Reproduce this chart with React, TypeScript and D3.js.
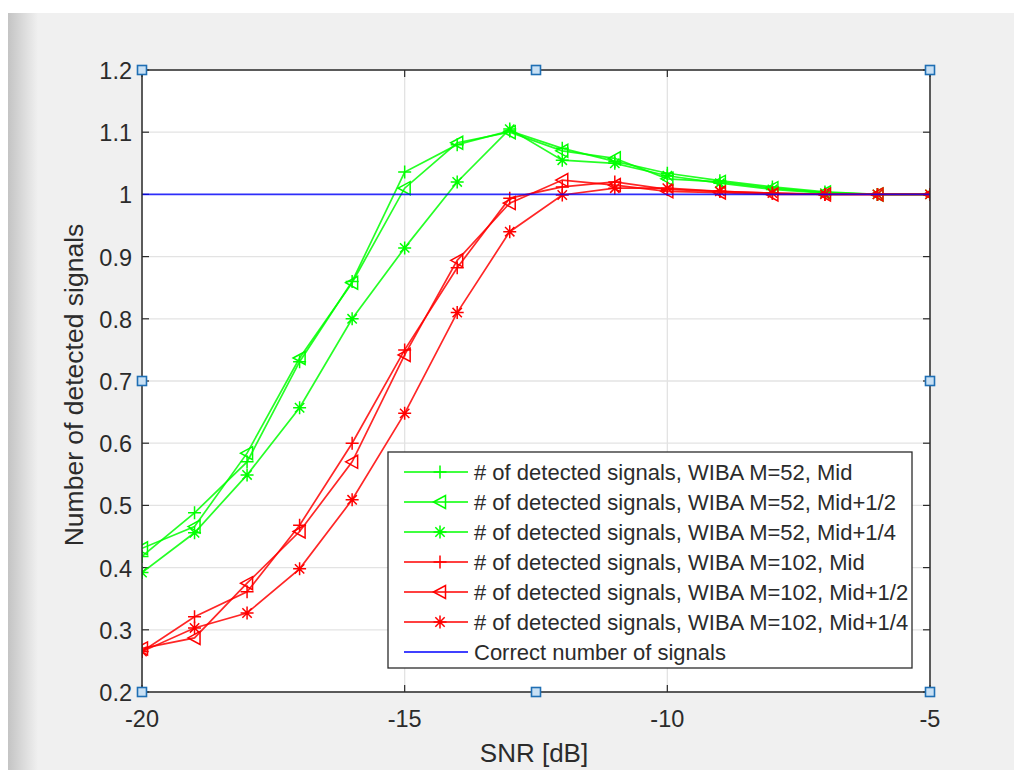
import React from 'react';
import * as d3 from 'd3';

const snr = [-20, -19, -18, -17, -16, -15, -14, -13, -12, -11, -10, -9, -8, -7, -6, -5];

const g52Mid = [0.418, 0.488, 0.57, 0.731, 0.86, 1.036, 1.08, 1.102, 1.074, 1.053, 1.034, 1.022, 1.012, 1.004, 1.0, 1.0];
const g52Half = [0.431, 0.466, 0.584, 0.737, 0.858, 1.01, 1.083, 1.1, 1.07, 1.058, 1.025, 1.02, 1.01, 1.003, 1.0, 1.0];
const g52Quarter = [0.392, 0.456, 0.549, 0.657, 0.8, 0.914, 1.02, 1.105, 1.055, 1.05, 1.03, 1.018, 1.008, 1.002, 1.0, 1.0];
const r102Mid = [0.265, 0.321, 0.361, 0.468, 0.6, 0.75, 0.882, 0.994, 1.012, 1.02, 1.008, 1.005, 1.002, 1.0, 1.0, 1.0];
const r102Half = [0.27, 0.287, 0.375, 0.458, 0.57, 0.742, 0.894, 0.986, 1.023, 1.015, 1.005, 1.003, 1.0, 1.0, 1.0, 1.0];
const r102Quarter = [0.265, 0.303, 0.327, 0.398, 0.509, 0.648, 0.81, 0.94, 0.999, 1.01, 1.01, 1.005, 1.002, 1.0, 1.0, 1.0];
const correct = [1, 1];

const legendLabels = [
  '# of detected signals, WIBA M=52, Mid',
  '# of detected signals, WIBA M=52, Mid+1/2',
  '# of detected signals, WIBA M=52, Mid+1/4',
  '# of detected signals, WIBA M=102, Mid',
  '# of detected signals, WIBA M=102, Mid+1/2',
  '# of detected signals, WIBA M=102, Mid+1/4',
  'Correct number of signals',
];

const yTicks = [0.2, 0.3, 0.4, 0.5, 0.6, 0.7, 0.8, 0.9, 1, 1.1, 1.2];
const xTicks = [-20, -15, -10, -5];

const GREEN = '#00ff00';
const RED = '#ff0000';
const BLUE = '#0000ff';
const INK = '#2b2b2b';
const FONT = "'Liberation Sans', Arial, Helvetica, sans-serif";

function Marker({ type, color }: { type: string; color: string }) {
  const s = 6.5;
  if (type === 'plus') {
    return <path d={`M${-s},0H${s}M0,${-s}V${s}`} stroke={color} strokeWidth={1.5} fill="none" />;
  }
  if (type === 'tri') {
    return <path d={`M${-s},0L${s - 1},${-s}L${s - 1},${s}Z`} stroke={color} strokeWidth={1.5} fill="none" />;
  }
  if (type === 'star') {
    const d = s * 0.72;
    return (
      <path
        d={`M${-s},0H${s}M0,${-s}V${s}M${-d},${-d}L${d},${d}M${-d},${d}L${d},${-d}`}
        stroke={color}
        strokeWidth={1.5}
        fill="none"
      />
    );
  }
  return null;
}

export default function App() {
  const width = 1014;
  const height = 770;
  const left = 142, right = 930, top = 70, bottom = 692;

  const x = d3.scaleLinear().domain([-20, -5]).range([left, right]);
  const y = d3.scaleLinear().domain([0.2, 1.2]).range([bottom, top]);

  const line = d3
    .line<number>()
    .x((_, i) => x(snr[i]))
    .y((d) => y(d));

  const series = [
    { data: g52Mid, color: GREEN, marker: 'plus' },
    { data: g52Half, color: GREEN, marker: 'tri' },
    { data: g52Quarter, color: GREEN, marker: 'star' },
    { data: r102Mid, color: RED, marker: 'plus' },
    { data: r102Half, color: RED, marker: 'tri' },
    { data: r102Quarter, color: RED, marker: 'star' },
  ];

  const handles = [
    [left, top], [(left + right) / 2, top], [right, top],
    [left, (top + bottom) / 2], [right, (top + bottom) / 2],
    [left, bottom], [(left + right) / 2, bottom], [right, bottom],
  ];

  const legX = 388, legY = 452, legW = 524, legH = 216;
  const rowH = 30;

  return (
    <svg width={width} height={height} style={{ position: 'absolute', left: 0, top: 0 }} fontFamily={FONT}>
      <defs>
        <linearGradient id="shadow" x1="0" x2="1" y1="0" y2="0">
          <stop offset="0" stopColor="#c4c4c4" />
          <stop offset="1" stopColor="#f0f0f0" />
        </linearGradient>
        <clipPath id="plotClip">
          <rect x={left} y={top} width={right - left} height={bottom - top} />
        </clipPath>
      </defs>
      <rect x={0} y={0} width={width} height={height} fill="#ffffff" />
      <rect x={8} y={13} width={width - 8} height={height - 13} fill="#f0f0f0" />
      <rect x={8} y={13} width={30} height={height - 13} fill="url(#shadow)" />

      {/* plot area */}
      <rect x={left} y={top} width={right - left} height={bottom - top} fill="#ffffff" />

      {/* grid */}
      {yTicks.map((t) => (
        <line key={'gy' + t} x1={left} x2={right} y1={y(t)} y2={y(t)} stroke="#e3e3e3" strokeWidth={1.3} />
      ))}
      {xTicks.map((t) => (
        <line key={'gx' + t} x1={x(t)} x2={x(t)} y1={top} y2={bottom} stroke="#e3e3e3" strokeWidth={1.3} />
      ))}

      {/* ticks */}
      {yTicks.map((t) => (
        <g key={'ty' + t}>
          <line x1={left} x2={left + 7} y1={y(t)} y2={y(t)} stroke={INK} strokeWidth={1.2} />
          <line x1={right} x2={right - 7} y1={y(t)} y2={y(t)} stroke={INK} strokeWidth={1.2} />
          <text x={left - 10} y={y(t)} dy="0.38em" textAnchor="end" fontSize={23.5} fill={INK}>
            {d3.format('~g')(t)}
          </text>
        </g>
      ))}
      {xTicks.map((t) => (
        <g key={'tx' + t}>
          <line x1={x(t)} x2={x(t)} y1={bottom} y2={bottom - 7} stroke={INK} strokeWidth={1.2} />
          <line x1={x(t)} x2={x(t)} y1={top} y2={top + 7} stroke={INK} strokeWidth={1.2} />
          <text x={x(t)} y={bottom + 35} textAnchor="middle" fontSize={23.5} fill={INK}>
            {t}
          </text>
        </g>
      ))}

      {/* data */}
      <g clipPath="url(#plotClip)">
        {series.map((s, si) => (
          <g key={'s' + si}>
            <path d={line(s.data) || ''} fill="none" stroke={s.color} strokeWidth={1.7} strokeOpacity={0.85} />
            {s.data.map((v, i) => (
              <g key={i} transform={`translate(${x(snr[i])},${y(v)})`}>
                <Marker type={s.marker} color={s.color} />
              </g>
            ))}
          </g>
        ))}
        <line x1={x(-20)} x2={x(-5)} y1={y(correct[0])} y2={y(correct[1])} stroke={BLUE} strokeWidth={1.7} strokeOpacity={0.8} />
      </g>

      {/* box */}
      <rect x={left} y={top} width={right - left} height={bottom - top} fill="none" stroke={INK} strokeWidth={1.5} />

      {/* axis labels */}
      <text x={534} y={762} textAnchor="middle" fontSize={26} fill={INK}>
        SNR [dB]
      </text>
      <text
        transform={`translate(83,${(top + bottom) / 2 + 4}) rotate(-90)`}
        textAnchor="middle"
        fontSize={26.5}
        fill={INK}
      >
        Number of detected signals
      </text>

      {/* legend */}
      <rect x={legX} y={legY} width={legW} height={legH} fill="#ffffff" stroke={INK} strokeWidth={1.3} />
      {legendLabels.map((lab, i) => {
        const cy = legY + 20 + i * rowH;
        const s = series[i];
        const color = s ? s.color : BLUE;
        return (
          <g key={'l' + i}>
            <line x1={legX + 16} x2={legX + 80} y1={cy} y2={cy} stroke={color} strokeWidth={1.6} />
            {s && (
              <g transform={`translate(${legX + 52},${cy})`}>
                <Marker type={s.marker} color={color} />
              </g>
            )}
            <text x={legX + 86} y={cy} dy="0.36em" fontSize={22} fill={INK}>
              {lab}
            </text>
          </g>
        );
      })}

      {/* selection handles */}
      {handles.map(([hx, hy], i) => (
        <rect key={'h' + i} x={hx - 4.5} y={hy - 4.5} width={9} height={9} fill="#c8e0f4" stroke="#1f6fb4" strokeWidth={1.6} />
      ))}
    </svg>
  );
}
